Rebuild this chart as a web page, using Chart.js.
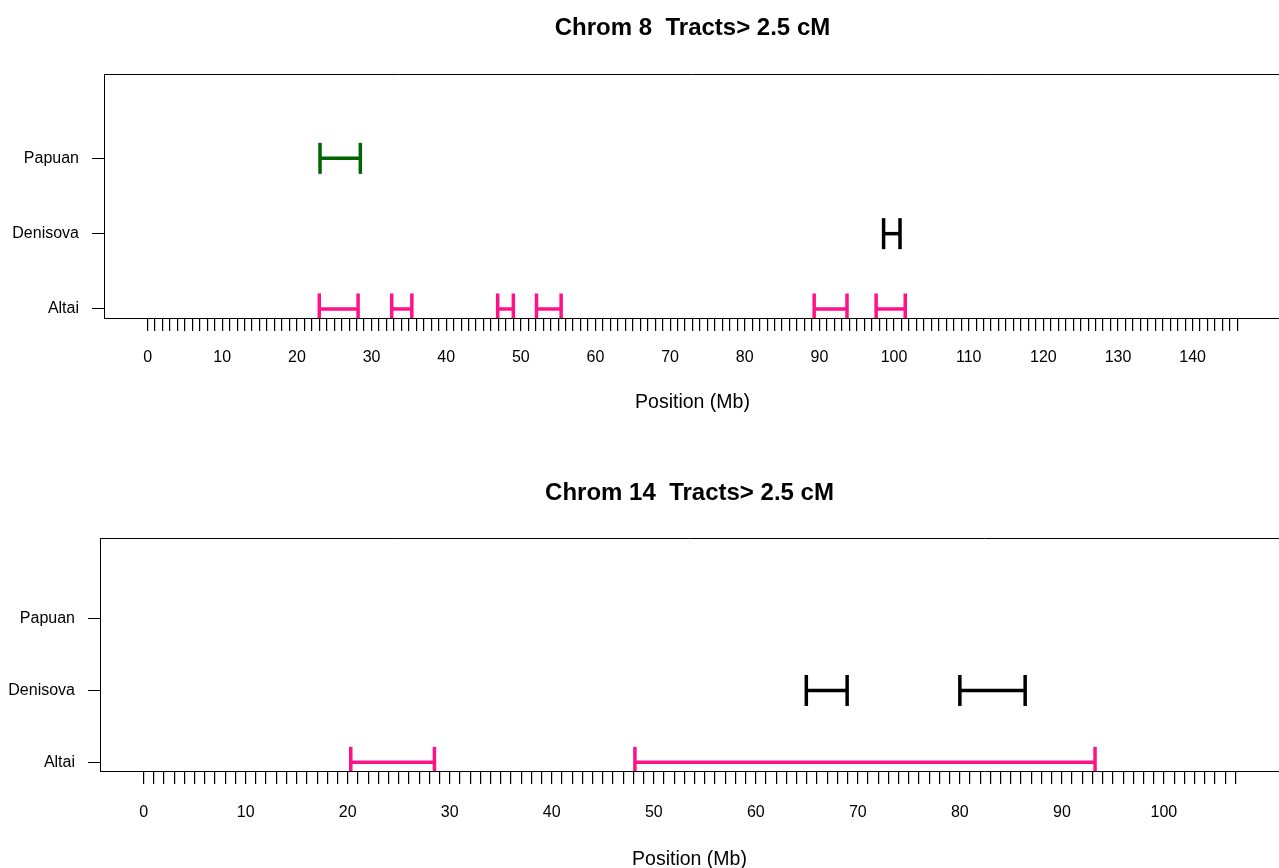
<!DOCTYPE html>
<html>
<head>
<meta charset="utf-8">
<title>Introgressed tracts</title>
<script src="https://cdn.jsdelivr.net/npm/chart.js@4.4.1/dist/chart.umd.min.js"></script>
<style>
  html, body { margin: 0; padding: 0; background: #fff; overflow: hidden; }
  body { width: 1279px; height: 868px; position: relative; }
  canvas { position: absolute; left: 0; }
  #chr8 { top: 0; }
  #chr14 { top: 434px; }
</style>
</head>
<body>
<canvas id="chr8" width="1300" height="434"></canvas>
<canvas id="chr14" width="1300" height="450"></canvas>
<script>
// rows, bottom to top
const rowLabels = ['Altai', 'Denisova', 'Papuan'];
const rowColors = ['#ff1188', '#000000', '#006400'];

// chromosome 8 tracts, [start, end] in Mb
const chr8Length = 146;
const chr8TickLabels = [0, 10, 20, 30, 40, 50, 60, 70, 80, 90, 100, 110, 120, 130, 140];
const chr8Altai = [[23.0, 28.2], [32.7, 35.4], [46.9, 49.0], [52.1, 55.4], [89.3, 93.7], [97.6, 101.5]];
const chr8Denisova = [[98.6, 100.8]];
const chr8Papuan = [[23.1, 28.5]];

// chromosome 14 tracts
const chr14Length = 107;
const chr14TickLabels = [0, 10, 20, 30, 40, 50, 60, 70, 80, 90, 100];
const chr14Altai = [[20.3, 28.5], [48.15, 93.25]];
const chr14Denisova = [[64.95, 68.95], [80.0, 86.4]];
const chr14Papuan = [];

Chart.defaults.font.family = '"Liberation Sans", Arial, Helvetica, sans-serif';
Chart.defaults.color = '#000';

// top edge of the plot box (left and bottom come from the axes)
const boxTop = {
  id: 'boxTop',
  afterDraw(chart) {
    const { ctx, chartArea: a } = chart;
    const y = Math.round(a.top) + 0.5;
    ctx.save();
    ctx.strokeStyle = '#000';
    ctx.lineWidth = 1;
    ctx.beginPath();
    ctx.moveTo(a.left, y);
    ctx.lineTo(a.right, y);
    ctx.stroke();
    ctx.restore();
  }
};

function tractDatasets(tracts, row) {
  const color = rowColors[row - 1];
  return tracts.map(t => ({
    data: [{ x: t[0], y: row }, { x: t[1], y: row }],
    showLine: true,
    borderColor: color,
    borderWidth: 3.5,
    pointStyle: 'line',
    pointRotation: 90,
    pointRadius: 15.5,
    pointHoverRadius: 15.5,
    pointBorderWidth: 3.5,
    pointBorderColor: color,
    pointBackgroundColor: color
  }));
}

function drawChrom(id, title, length, tickLabels, tracts, box) {
  const canvas = document.getElementById(id);
  const pad = length * 0.04;
  const minorTicks = [];
  for (let v = 0; v <= length; v++) minorTicks.push(v);

  const datasets = [];
  tracts.forEach((list, i) => datasets.push(...tractDatasets(list, i + 1)));

  new Chart(canvas.getContext('2d'), {
    type: 'scatter',
    data: { datasets: datasets },
    options: {
      responsive: false,
      animation: false,
      events: [],
      layout: { padding: { left: 0, right: canvas.width - box.right, top: 0, bottom: 0 } },
      plugins: {
        legend: { display: false },
        tooltip: { enabled: false },
        title: {
          display: true,
          text: title,
          fullSize: false,
          color: '#000',
          font: { size: 24, weight: 'bold' },
          padding: { top: box.titleTop, bottom: box.titleBottom }
        }
      },
      scales: {
        x: {
          type: 'linear',
          min: -pad,
          max: length + pad,
          afterBuildTicks: s => { s.ticks = minorTicks.map(v => ({ value: v })); },
          afterFit: s => { s.height = canvas.height - box.bottom; },
          ticks: {
            autoSkip: false,
            maxRotation: 0,
            font: { size: 16 },
            padding: box.tickPad,
            callback: v => tickLabels.includes(v) ? String(v) : ''
          },
          grid: { drawOnChartArea: false, tickLength: 13, color: '#000', lineWidth: 1.2 },
          border: { color: '#000', width: 1 },
          title: {
            display: true,
            text: 'Position (Mb)',
            font: { size: 19.5 },
            padding: { top: 0, bottom: box.xTitleBottom }
          }
        },
        y: {
          type: 'linear',
          min: 0.88,
          max: 4.12,
          afterBuildTicks: s => { s.ticks = rowLabels.map((_, i) => ({ value: i + 1 })); },
          afterFit: s => { s.width = box.left; },
          ticks: {
            font: { size: 16 },
            padding: 13,
            callback: v => rowLabels[v - 1]
          },
          grid: { drawOnChartArea: false, tickLength: 12, color: '#000' },
          border: { color: '#000', width: 1 }
        }
      }
    },
    plugins: [boxTop]
  });
}

drawChrom('chr8', 'Chrom 8  Tracts> 2.5 cM', chr8Length, chr8TickLabels,
  [chr8Altai, chr8Denisova, chr8Papuan],
  { left: 104, right: 1285, bottom: 318, titleTop: 14.3, titleBottom: 30.9, tickPad: 17, xTitleBottom: 19.3 });

drawChrom('chr14', 'Chrom 14  Tracts> 2.5 cM', chr14Length, chr14TickLabels,
  [chr14Altai, chr14Denisova, chr14Papuan],
  { left: 100, right: 1279, bottom: 337, titleTop: 44.6, titleBottom: 30.6, tickPad: 18.5, xTitleBottom: 12.3 });
</script>
</body>
</html>
